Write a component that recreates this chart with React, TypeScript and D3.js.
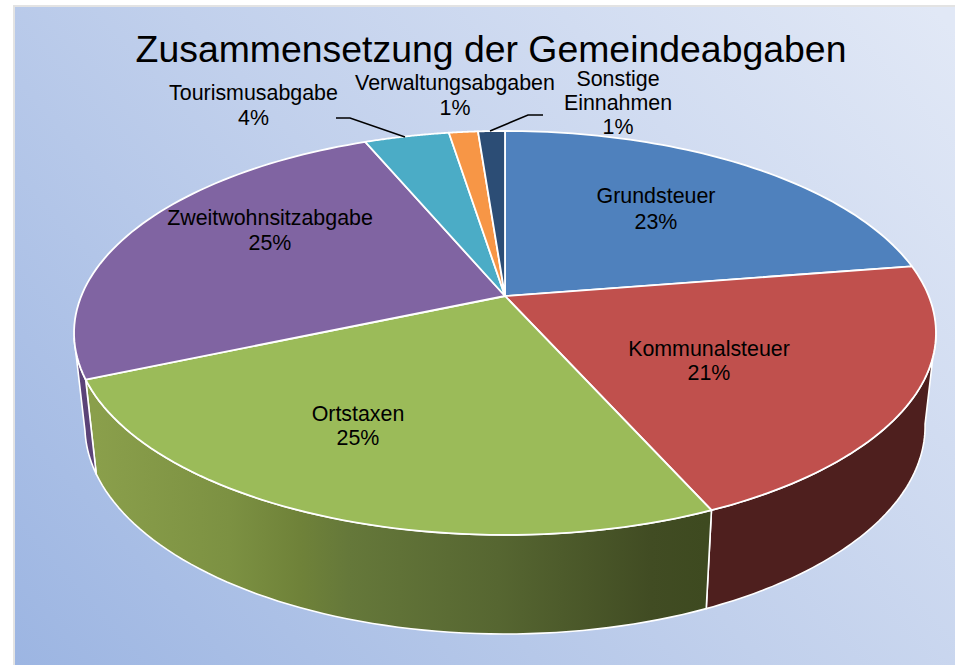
import React from "react";
import * as d3 from "d3";

const categories = ["Grundsteuer", "Kommunalsteuer", "Ortstaxen", "Zweitwohnsitzabgabe", "Tourismusabgabe", "Verwaltungsabgaben", "Sonstige Einnahmen"];
const shares = [22.5, 20.85, 25.15, 25.2, 3.8, 1.3, 1.2];
const percentLabels = ["23%", "21%", "25%", "25%", "4%", "1%", "1%"];
const title = "Zusammensetzung der Gemeindeabgaben";

const topColors = ["#4f81bd", "#c0504d", "#9bbb59", "#8064a2", "#4bacc6", "#f79646", "#2c4d75"];
const labelLayout: { x: number; ys: number[]; lines: string[] }[] = [
  { x: 656, ys: [203, 229], lines: ["Grundsteuer"] },
  { x: 709, ys: [356, 380], lines: ["Kommunalsteuer"] },
  { x: 358, ys: [421, 445], lines: ["Ortstaxen"] },
  { x: 270, ys: [225, 250], lines: ["Zweitwohnsitzabgabe"] },
  { x: 253.5, ys: [100, 125], lines: ["Tourismusabgabe"] },
  { x: 455, ys: [90, 115], lines: ["Verwaltungsabgaben"] },
  { x: 618, ys: [86, 110, 134], lines: ["Sonstige", "Einnahmen"] },
];
const leaders = [
  [[336, 118], [350, 118], [405, 137]],
  [[543, 115], [528, 115], [490, 131]],
];

const topProj = { cx: 505, cy: 296, a: 423.7, b: 195.2, k: 0.183 };
const botProj = { cx: 505, cy: 388, a: 413, b: 201, k: 0.183 };
function project(p: typeof topProj, t: number): [number, number] {
  const u = Math.sin(t), v = -Math.cos(t), w = 1 - p.k * v;
  return [p.cx + (p.a * u) / w, p.cy + (p.b * v) / w];
}
const deg = Math.PI / 180;
const visFrom = 100 * deg, visTo = 258 * deg;

export default function App() {
  const arcs = d3.pie<number>().sort(null)(shares);
  const line = d3.line();
  const arcPts = (p: typeof topProj, a: number, b: number) =>
    d3.range(0, 61).map((i) => project(p, a + ((b - a) * i) / 60));
  return (
    <svg width={955} height={665} style={{ position: "absolute", left: 0, top: 0, background: "#fff" }}>
      <defs>
        <linearGradient id="bg" gradientUnits="userSpaceOnUse" x1={60} y1={720} x2={900} y2={-30}>
          <stop offset="0" stopColor="#9cb5e2" />
          <stop offset="0.5" stopColor="#c1d0ec" />
          <stop offset="1" stopColor="#e1e8f6" />
        </linearGradient>
        <linearGradient id="side2" gradientUnits="userSpaceOnUse" x1={95} y1={0} x2={706} y2={0}>
          <stop offset="0" stopColor="#8a9f4b" />
          <stop offset="0.22" stopColor="#7c9142" />
          <stop offset="0.335" stopColor="#6f8239" />
          <stop offset="0.417" stopColor="#65783a" />
          <stop offset="0.66" stopColor="#566631" />
          <stop offset="0.91" stopColor="#414c23" />
          <stop offset="1" stopColor="#3e4a20" />
        </linearGradient>
      </defs>
      <rect x={13} y={5} width={942} height={660} fill="#e3e3e3" />
      <rect x={15} y={7} width={940} height={658} fill="url(#bg)" />
      <text x={491} y={62} textAnchor="middle" fontFamily="Liberation Sans" fontSize={37.4} fill="#000">{title}</text>
      {arcs.map((s, i) => {
        const a = Math.max(s.startAngle, visFrom), b = Math.min(s.endAngle, visTo);
        if (a >= b) return null;
        const pts = [...arcPts(topProj, a, b), ...arcPts(botProj, a, b).reverse()] as [number, number][];
        const fill = i === 1 ? "#4e1f1e" : i === 2 ? "url(#side2)" : "#5b4378";
        return <path key={i} d={line(pts) + "Z"} fill={fill} stroke="#fff" strokeWidth={1.6} strokeLinejoin="round" />;
      })}
      {arcs.map((s, i) => {
        const pts = [[topProj.cx, topProj.cy], ...arcPts(topProj, s.startAngle, s.endAngle)] as [number, number][];
        return <path key={i} d={line(pts) + "Z"} fill={topColors[i]} stroke="#fff" strokeWidth={1.8} strokeLinejoin="round" />;
      })}
      {leaders.map((l, i) => (
        <path key={i} d={line(l as [number, number][]) as string} fill="none" stroke="#000" strokeWidth={1.5} />
      ))}
      {categories.map((c, i) => {
        const l = labelLayout[i];
        const rows = [...l.lines, percentLabels[i]];
        return (
          <text key={c} textAnchor="middle" fontFamily="Liberation Sans" fontSize={21.4} fill="#000">
            {rows.map((r, j) => <tspan key={j} x={l.x} y={l.ys[j]}>{r}</tspan>)}
          </text>
        );
      })}
    </svg>
  );
}
